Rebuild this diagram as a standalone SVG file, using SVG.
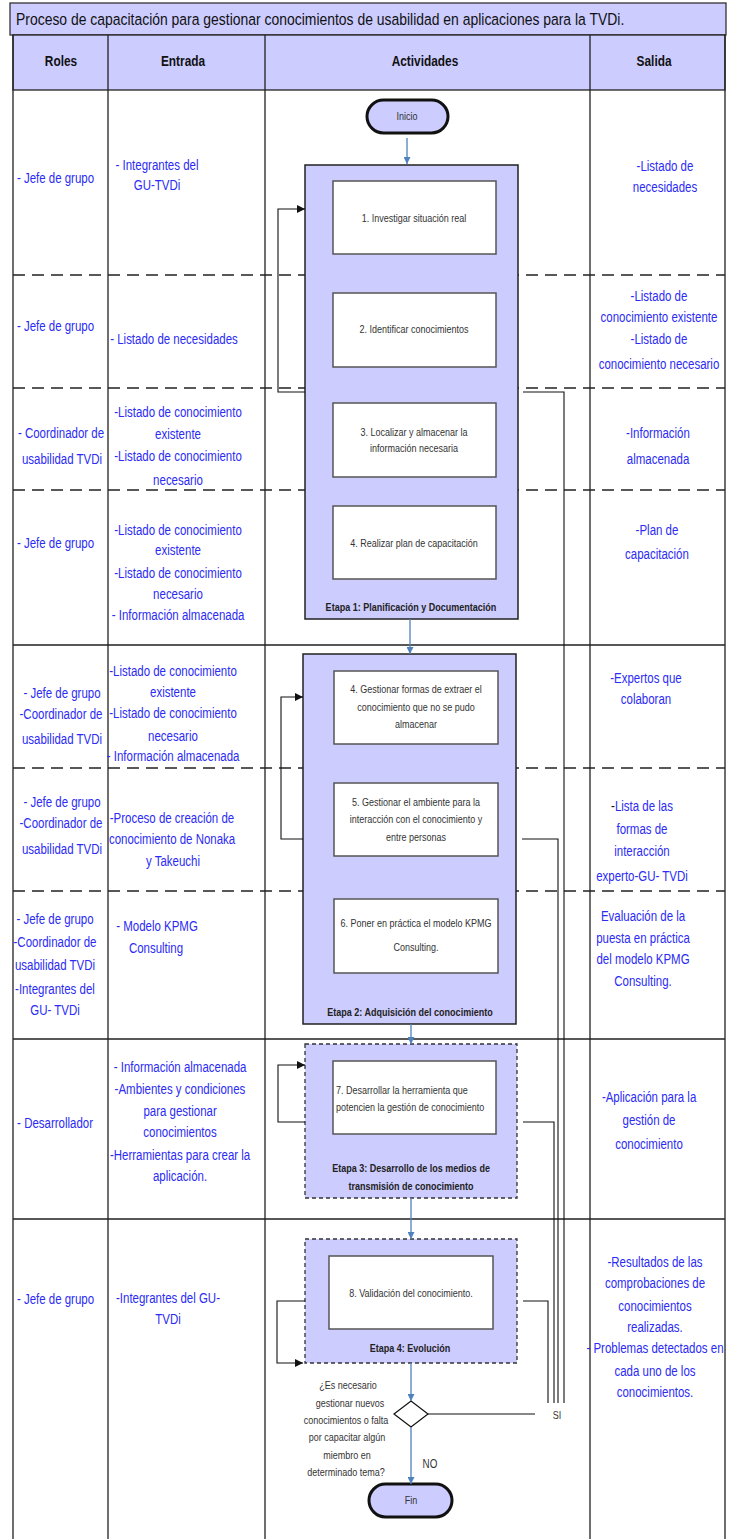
<svg xmlns="http://www.w3.org/2000/svg" width="735" height="1539" viewBox="0 0 735 1539">
<style>
text{font-family:"Liberation Sans Narrow","Arial Narrow","Liberation Sans",sans-serif;transform-box:fill-box;transform-origin:center;transform:scaleX(0.82)}
text.l{transform-origin:left center}
.b{font-size:14px;fill:#2b2bf5;text-anchor:middle}
.h{font-size:14.5px;font-weight:bold;fill:#111;text-anchor:middle}
.a{font-size:11px;fill:#333;text-anchor:middle}
.e{font-size:11px;font-weight:bold;fill:#222;text-anchor:middle}
.grid{stroke:#222;stroke-width:1.3;fill:none}
.dash{stroke:#222;stroke-width:1.3;stroke-dasharray:12 7;fill:none}
.stage{fill:#ccccff;stroke:#222;stroke-width:1.5}
.stageD{fill:#ccccff;stroke:#333;stroke-width:1.3;stroke-dasharray:4 3}
.box{fill:#fff;stroke:#555;stroke-width:1.5}
.pill{fill:#ccccff;stroke:#111;stroke-width:3}
.flow{stroke:#4f81bd;stroke-width:1.3;fill:none;marker-end:url(#ab)}
.fb{stroke:#111;stroke-width:1.1;fill:none}
.fba{stroke:#111;stroke-width:1.1;fill:none;marker-end:url(#ak)}
</style>
<defs>
<marker id="ab" viewBox="0 0 10 10" refX="10" refY="5" markerWidth="7" markerHeight="7" markerUnits="userSpaceOnUse" orient="auto"><path d="M0,0L10,5L0,10z" fill="#4f81bd"/></marker>
<marker id="ak" viewBox="0 0 10 10" refX="10" refY="5" markerWidth="8" markerHeight="8" markerUnits="userSpaceOnUse" orient="auto"><path d="M0,0L10,5L0,10z" fill="#111"/></marker>
</defs>
<rect width="735" height="1539" fill="#fff"/>

<g id="title">
<rect x="10" y="3" width="716" height="32" fill="#ccccff" stroke="#333" stroke-width="1.3"/>
<text class="l" x="16" y="25" style="font-size:17px;fill:#111">Proceso de capacitación para gestionar conocimientos de usabilidad en aplicaciones para la TVDi.</text>
</g>

<g id="header">
<rect x="13" y="35" width="712" height="55" fill="#ccccff" stroke="#222" stroke-width="1.3"/>
<text class="h" x="61" y="66">Roles</text>
<text class="h" x="183" y="66">Entrada</text>
<text class="h" x="425" y="66">Actividades</text>
<text class="h" x="654" y="66">Salida</text>
</g>

<g id="grid">
<path class="grid" d="M13,35V1539M108,35V1539M265,35V1539M590,35V1539M725,35V1539"/>
<path class="grid" d="M13,645H725M13,1039H725M13,1219H725"/>
<path class="dash" d="M13,275H725M13,388H725M13,490H725M13,768H725M13,891H725"/>
</g>

<g id="roles">
<text class="b" x="55.5" y="183">- Jefe de grupo</text>
<text class="b" x="55.5" y="331">- Jefe de grupo</text>
<text class="b" x="61" y="438">- Coordinador de</text>
<text class="b" x="62" y="464">usabilidad TVDi</text>
<text class="b" x="55.5" y="548">- Jefe de grupo</text>
<text class="b" x="62" y="698">- Jefe de grupo</text>
<text class="b" x="61" y="719">-Coordinador de</text>
<text class="b" x="62" y="744">usabilidad TVDi</text>
<text class="b" x="62" y="807">- Jefe de grupo</text>
<text class="b" x="61" y="828">-Coordinador de</text>
<text class="b" x="62" y="854">usabilidad TVDi</text>
<text class="b" x="55" y="924">- Jefe de grupo</text>
<text class="b" x="55" y="947">-Coordinador de</text>
<text class="b" x="55" y="970">usabilidad TVDi</text>
<text class="b" x="55" y="994">-Integrantes del</text>
<text class="b" x="55" y="1015">GU- TVDi</text>
<text class="b" x="55" y="1128">- Desarrollador</text>
<text class="b" x="55.5" y="1304">- Jefe de grupo</text>
</g>

<g id="entrada">
<text class="b" x="157" y="170">- Integrantes del</text>
<text class="b" x="157" y="190">GU-TVDi</text>
<text class="b" x="174" y="344">- Listado de necesidades</text>
<text class="b" x="178" y="417">-Listado de conocimiento</text>
<text class="b" x="178" y="439">existente</text>
<text class="b" x="178" y="461">-Listado de conocimiento</text>
<text class="b" x="178" y="485">necesario</text>
<text class="b" x="178" y="535">-Listado de conocimiento</text>
<text class="b" x="178" y="555">existente</text>
<text class="b" x="178" y="578">-Listado de conocimiento</text>
<text class="b" x="178" y="599">necesario</text>
<text class="b" x="178" y="620">- Información almacenada</text>
<text class="b" x="173" y="676">-Listado de conocimiento</text>
<text class="b" x="173" y="697">existente</text>
<text class="b" x="173" y="718">-Listado de conocimiento</text>
<text class="b" x="173" y="741">necesario</text>
<text class="b" x="173" y="761">- Información almacenada</text>
<text class="b" x="172" y="823">-Proceso de creación de</text>
<text class="b" x="172" y="844">conocimiento de Nonaka</text>
<text class="b" x="173" y="866">y Takeuchi</text>
<text class="b" x="157" y="931">- Modelo KPMG</text>
<text class="b" x="156" y="953">Consulting</text>
<text class="b" x="180" y="1072">- Información almacenada</text>
<text class="b" x="180" y="1094">-Ambientes y condiciones</text>
<text class="b" x="180" y="1116">para gestionar</text>
<text class="b" x="180" y="1137">conocimientos</text>
<text class="b" x="180" y="1160">-Herramientas para crear la</text>
<text class="b" x="180" y="1181">aplicación.</text>
<text class="b" x="168" y="1303">-Integrantes del GU-</text>
<text class="b" x="168" y="1324">TVDi</text>
</g>

<g id="salida">
<text class="b" x="665" y="171">-Listado de</text>
<text class="b" x="665" y="192">necesidades</text>
<text class="b" x="659" y="301">-Listado de</text>
<text class="b" x="659" y="322">conocimiento existente</text>
<text class="b" x="659" y="344">-Listado de</text>
<text class="b" x="659" y="369">conocimiento necesario</text>
<text class="b" x="658" y="438">-Información</text>
<text class="b" x="658" y="464">almacenada</text>
<text class="b" x="657" y="535">-Plan de</text>
<text class="b" x="657" y="559">capacitación</text>
<text class="b" x="646" y="683">-Expertos que</text>
<text class="b" x="646" y="704">colaboran</text>
<text class="b" x="642" y="811"><tspan fill="#111">-</tspan>Lista de las</text>
<text class="b" x="642" y="834">formas de</text>
<text class="b" x="642" y="856">interacción</text>
<text class="b" x="642" y="881">experto-GU- TVDi</text>
<text class="b" x="643" y="921">Evaluación de la</text>
<text class="b" x="643" y="943">puesta en práctica</text>
<text class="b" x="643" y="964">del modelo KPMG</text>
<text class="b" x="643" y="986">Consulting.</text>
<text class="b" x="649" y="1102">-Aplicación para la</text>
<text class="b" x="649" y="1125">gestión de</text>
<text class="b" x="649" y="1149">conocimiento</text>
<text class="b" x="655" y="1267">-Resultados de las</text>
<text class="b" x="655" y="1288">comprobaciones de</text>
<text class="b" x="655" y="1311">conocimientos</text>
<text class="b" x="655" y="1332">realizadas.</text>
<text class="b" x="655" y="1353">- Problemas detectados en</text>
<text class="b" x="655" y="1376">cada uno de los</text>
<text class="b" x="655" y="1397">conocimientos.</text>
</g>

<g id="inicio">
<rect class="pill" x="367" y="100" width="81" height="33" rx="16.5"/>
<text class="a" x="407" y="120">Inicio</text>
</g>

<g id="etapa1">
<rect class="stage" x="305" y="165" width="213" height="454"/>
<text class="e" x="411" y="611">Etapa 1: Planificación y Documentación</text>
</g>
<g id="act1">
<rect class="box" x="333" y="181" width="163" height="73"/>
<text class="a" x="414" y="222">1. Investigar situación real</text>
</g>
<g id="act2">
<rect class="box" x="333" y="293" width="163" height="74"/>
<text class="a" x="414" y="333">2. Identificar conocimientos</text>
</g>
<g id="act3">
<rect class="box" x="333" y="403" width="163" height="74"/>
<text class="a" x="414" y="436">3. Localizar y almacenar la</text>
<text class="a" x="414" y="452">información necesaria</text>
</g>
<g id="act4">
<rect class="box" x="333" y="506" width="163" height="73"/>
<text class="a" x="414" y="547">4. Realizar plan de capacitación</text>
</g>

<g id="etapa2">
<rect class="stage" x="303" y="654" width="213" height="370"/>
<text class="e" x="410" y="1016">Etapa 2: Adquisición del conocimiento</text>
</g>
<g id="act4b">
<rect class="box" x="334" y="671" width="164" height="73"/>
<text class="a" x="416" y="693">4.  Gestionar formas de extraer el</text>
<text class="a" x="416" y="711">conocimiento que no se pudo</text>
<text class="a" x="416" y="728">almacenar</text>
</g>
<g id="act5">
<rect class="box" x="334" y="783" width="164" height="73"/>
<text class="a" x="416" y="806">5. Gestionar el ambiente para la</text>
<text class="a" x="416" y="823">interacción con el conocimiento y</text>
<text class="a" x="416" y="841">entre personas</text>
</g>
<g id="act6">
<rect class="box" x="334" y="899" width="164" height="74"/>
<text class="a" x="416" y="927">6. Poner en práctica el modelo KPMG</text>
<text class="a" x="416" y="951">Consulting.</text>
</g>

<g id="etapa3">
<rect class="stageD" x="305" y="1044" width="212" height="154"/>
<text class="e" x="411" y="1172">Etapa 3: Desarrollo de los medios de</text>
<text class="e" x="411" y="1190">transmisión de conocimiento</text>
</g>
<g id="act7">
<rect class="box" x="333" y="1061" width="163" height="73"/>
<text class="a l" x="336" y="1094" style="text-anchor:start">7.  Desarrollar la herramienta que</text>
<text class="a l" x="336" y="1111" style="text-anchor:start">potencien la gestión de conocimiento</text>
</g>

<g id="etapa4">
<rect class="stageD" x="305" y="1239" width="212" height="124"/>
<text class="e" x="410" y="1352">Etapa 4: Evolución</text>
</g>
<g id="act8">
<rect class="box" x="329" y="1256" width="164" height="73"/>
<text class="a" x="411" y="1297">8.  Validación del conocimiento.</text>
</g>

<g id="decision">
<path d="M411,1401L428,1414L411,1427L394,1414z" fill="#fff" stroke="#111" stroke-width="1.2"/>
<text class="a" x="348" y="1389">¿Es necesario</text>
<text class="a" x="350" y="1407">gestionar nuevos</text>
<text class="a" x="346" y="1424">conocimientos o falta</text>
<text class="a" x="347" y="1441">por capacitar algún</text>
<text class="a" x="347" y="1459">miembro en</text>
<text class="a" x="346" y="1476">determinado tema?</text>
</g>

<g id="fin">
<rect class="pill" x="369" y="1484" width="83" height="33" rx="16.5"/>
<text class="a" x="411" y="1504">Fin</text>
</g>

<g id="connectors">
<path class="flow" d="M407,138V164"/>
<path class="flow" d="M410,619V654"/>
<path class="flow" d="M411,1024V1044"/>
<path class="flow" d="M411,1198V1239"/>
<path class="flow" d="M411,1363V1401"/>
<path class="flow" d="M411,1427V1484"/>
<path class="fba" d="M305,392H278V209H305"/>
<path class="fba" d="M303,839H281V697H303"/>
<path class="fba" d="M305,1122H278V1065H305"/>
<path class="fba" d="M305,1301H277V1363H303"/>
<path class="fb" d="M523,392H564V1403"/>
<path class="fb" d="M522,839H558V1403"/>
<path class="fb" d="M523,1122H554V1403"/>
<path class="fb" d="M523,1301H548V1403"/>
<path class="fb" d="M428,1414H535"/>
<text class="a" x="557" y="1419">SI</text>
<text class="a" x="430" y="1468" style="font-size:12px">NO</text>
</g>
</svg>
